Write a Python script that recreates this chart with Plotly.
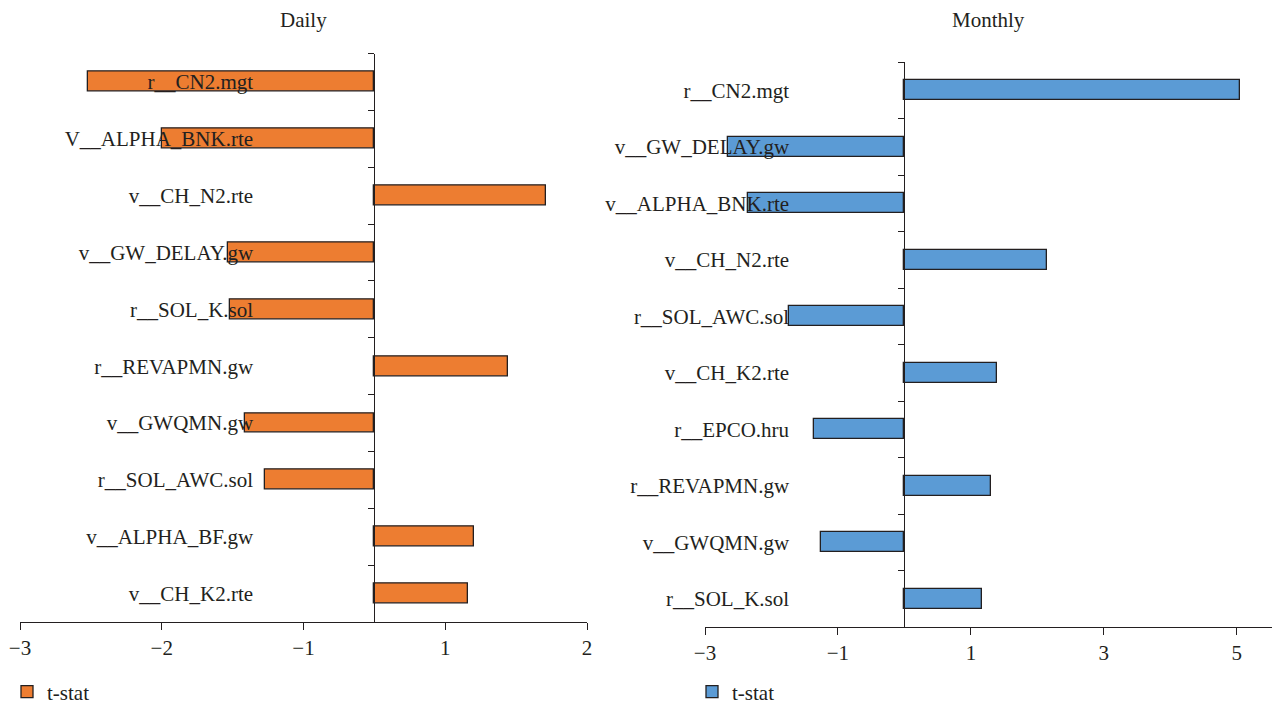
import plotly.graph_objects as go

# Daily t-statistics (top to bottom)
daily_params = ["r__CN2.mgt", "V__ALPHA_BNK.rte", "v__CH_N2.rte", "v__GW_DELAY.gw",
                "r__SOL_K.sol", "r__REVAPMN.gw", "v__GWQMN.gw", "r__SOL_AWC.sol",
                "v__ALPHA_BF.gw", "v__CH_K2.rte"]
daily_tstat = [-2.02, -1.5, 1.21, -1.03, -1.02, 0.94, -0.91, -0.77, 0.7, 0.66]
daily_tickvals = [-2.5, -1.5, -0.5, 0.5, 1.5]
daily_ticktext = ["\u22123", "\u22122", "\u22121", "1", "2"]

# Monthly t-statistics (top to bottom)
monthly_params = ["r__CN2.mgt", "v__GW_DELAY.gw", "v__ALPHA_BNK.rte", "v__CH_N2.rte",
                  "r__SOL_AWC.sol", "v__CH_K2.rte", "r__EPCO.hru", "r__REVAPMN.gw",
                  "v__GWQMN.gw", "r__SOL_K.sol"]
monthly_tstat = [5.05, -2.66, -2.35, 2.14, -1.74, 1.4, -1.36, 1.31, -1.26, 1.17]
monthly_tickvals = [-3, -1, 1, 3, 5]

W, H = 1272, 704
FONT = "Liberation Serif"
FS = 21
INK = "#231f20"

fig = go.Figure()

fig.add_trace(go.Bar(
    x=daily_tstat, y=daily_params, orientation="h", name="t-stat",
    marker=dict(color="#ED7D31", line=dict(color=INK, width=1.3)),
    width=0.35, xaxis="x", yaxis="y", legend="legend", showlegend=True,
))
fig.add_trace(go.Bar(
    x=monthly_tstat, y=monthly_params, orientation="h", name="t-stat",
    marker=dict(color="#5B9BD5", line=dict(color=INK, width=1.3)),
    width=0.35, xaxis="x2", yaxis="y2", legend="legend2", showlegend=True,
))

# panel geometry in pixels
d_x0, d_x1 = 20, 587
d_range = [-2.5, 1.5]
d_top, d_bot = 53.5, 622

m_x0, m_x1 = 705, 1272
m_range = [-3, 5.53]
m_top, m_bot = 62, 627


def zero_pos(x0, x1, rng):
    frac = (0 - rng[0]) / (rng[1] - rng[0])
    return (x0 + frac * (x1 - x0)) / W


tick_font = dict(family=FONT, size=FS, color=INK)
common_x = dict(showgrid=False, zeroline=False, showline=True, linecolor=INK,
                linewidth=1.2, ticks="outside", ticklen=7, tickwidth=1.2,
                tickcolor=INK, tickfont=tick_font, automargin=False)
common_y = dict(type="category", showgrid=False, zeroline=False, showline=True,
                linecolor=INK, linewidth=1.2, ticks="outside", ticklen=6,
                tickwidth=1.2, tickcolor=INK, tickson="boundaries",
                anchor="free", tickfont=tick_font, automargin=False)
legend_style = dict(xanchor="left", yanchor="middle", bgcolor="rgba(0,0,0,0)",
                    font=dict(family=FONT, size=FS, color=INK))

fig.update_layout(
    width=W, height=H,
    margin=dict(l=0, r=0, t=0, b=0, autoexpand=False),
    paper_bgcolor="white", plot_bgcolor="white",
    font=dict(family=FONT, size=FS, color=INK),
    showlegend=True,
    bargap=0,
    xaxis=dict(domain=[d_x0 / W, d_x1 / W], range=d_range,
               tickvals=daily_tickvals, ticktext=daily_ticktext,
               anchor="y", **common_x),
    yaxis=dict(domain=[1 - d_bot / H, 1 - d_top / H],
               categoryorder="array", categoryarray=daily_params,
               range=[len(daily_params) - 0.5, -0.5],
               position=zero_pos(d_x0, d_x1, d_range),
               ticklabelstandoff=117, **common_y),
    xaxis2=dict(domain=[m_x0 / W, m_x1 / W], range=m_range,
                tickvals=monthly_tickvals,
                anchor="y2", **common_x),
    yaxis2=dict(domain=[1 - m_bot / H, 1 - m_top / H],
                categoryorder="array", categoryarray=monthly_params,
                range=[len(monthly_params) - 0.5, -0.5],
                position=zero_pos(m_x0, m_x1, m_range),
                ticklabelstandoff=111, **common_y),
    legend=dict(x=7 / W, y=1 - 692 / H, **legend_style),
    legend2=dict(x=692 / W, y=1 - 692 / H, **legend_style),
    annotations=[
        dict(text="Daily", x=(d_x0 + d_x1) / 2 / W, y=1 - 20 / H, xref="paper",
             yref="paper", showarrow=False, xanchor="center", yanchor="middle",
             font=dict(family=FONT, size=FS, color=INK)),
        dict(text="Monthly", x=(m_x0 + m_x1) / 2 / W, y=1 - 20 / H, xref="paper",
             yref="paper", showarrow=False, xanchor="center", yanchor="middle",
             font=dict(family=FONT, size=FS, color=INK)),
    ],
)

fig.write_html("out.html")
